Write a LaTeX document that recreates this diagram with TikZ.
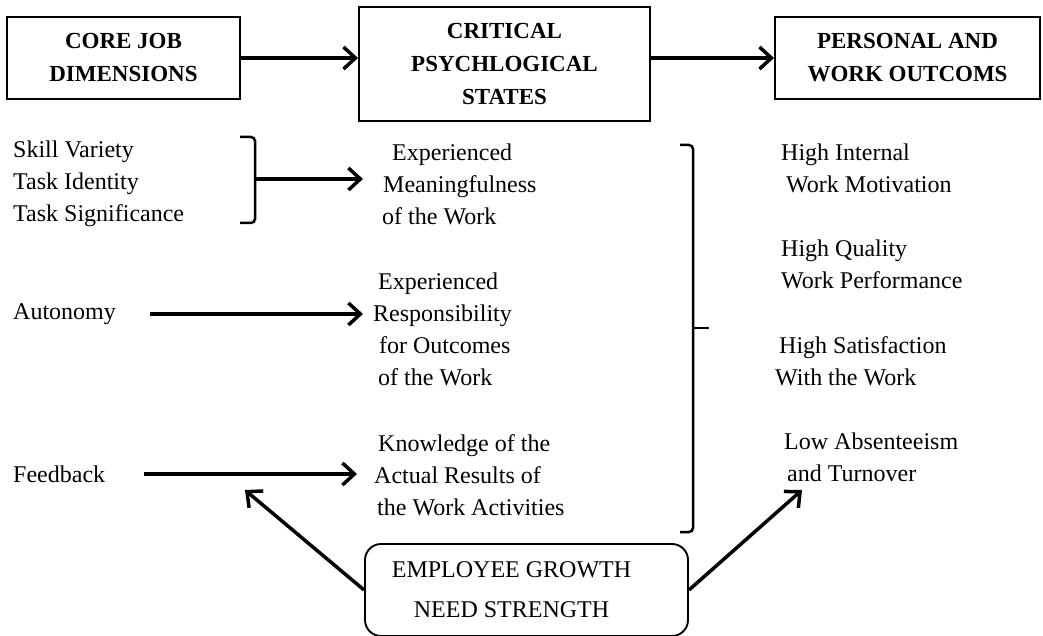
\documentclass[tikz,border=0pt]{standalone}
\usepackage{fontspec}
\setmainfont{Liberation Serif}
\usetikzlibrary{arrows.meta,positioning,calc}

\tikzset{
  headbox/.style={draw, line width=1.9pt, align=center, inner sep=0pt,
    font=\fontsize{23}{33}\selectfont\bfseries},
  item/.style={anchor=west, align=left, inner sep=0pt,
    font=\fontsize{24}{32}\selectfont},
  flow/.style={line width=3.5pt, -{Straight Barb[length=12pt,width=22pt]}},
  brace/.style={line width=2.5pt, rounded corners=4pt},
}

\begin{document}
\begin{tikzpicture}[x=1pt,y=-1pt]
\useasboundingbox (0,0) rectangle (1043,636);
% Headings
\node[headbox, minimum width=233pt, minimum height=82pt] (core) at (123.5,58) {CORE JOB\\DIMENSIONS};
\node[headbox, minimum width=291pt, minimum height=114pt] (crit) at (504.5,64) {CRITICAL\\PSYCHLOGICAL\\STATES};
\node[headbox, minimum width=265pt, minimum height=82pt] (outc) at (907.5,58) {PERSONAL AND\\WORK OUTCOMS};
\draw[flow] (core.east) -- (core.east -| crit.west);
\draw[flow] (outc.west -| crit.east) -- (outc.west);

% Core job dimensions
\node[item] (skills) at (13,184) {Skill Variety\\Task Identity\\Task Significance};
\node[item] (auto) at (13,314) {Autonomy};
\node[item] (fb) at (13,474) {Feedback};

% Psychological states
\node[item] (mean) at (382,184) {\hspace*{10pt}Experienced\\\hspace*{1pt}Meaningfulness\\of the Work};
\node[item] (resp) at (373,329.5) {\hspace*{5pt}Experienced\\Responsibility\\\hspace*{6pt}for Outcomes\\\hspace*{5pt}of the Work};
\node[item] (know) at (374,475) {\hspace*{4pt}Knowledge of the\\Actual Results of\\\hspace*{3pt}the Work Activities};

% Outcomes
\node[item] (motiv) at (775,168) {\hspace*{6pt}High Internal\\\hspace*{11pt}Work Motivation};
\node[item] (perf) at (775,264.5) {\hspace*{6pt}High Quality\\\hspace*{6pt}Work Performance};
\node[item] (satis) at (775,361.5) {\hspace*{4pt}High Satisfaction\\With the Work};
\node[item] (absent) at (775,457) {\hspace*{9pt}Low Absenteeism\\\hspace*{12pt}and Turnover};

% Brackets
\draw[brace] (240,137) -- (255,137) -- (255,223) -- (240,223);
\coordinate (skillbrk) at (255,179);
\draw[brace] (680,145) -- (693,145) -- (693,532) -- (680,532);
\draw[line width=2.5pt] (693,328) -- (709,328);

% Dimension to state arrows
\draw[flow, shorten >=19pt] (skillbrk) -- (skillbrk -| mean.west);
\draw[flow, shorten >=10pt] ([xshift=34pt]auto.east) -- (auto.east -| resp.west);
\draw[flow, shorten >=17pt] ([xshift=39pt]fb.east) -- (fb.east -| know.west);

% Growth need strength
\node[draw, line width=1.9pt, rounded corners=16pt, minimum width=323pt, minimum height=92pt,
  align=center, font=\fontsize{24}{40}\selectfont] (egns) at (526.5,590)
  {\hspace*{-30pt}EMPLOYEE GROWTH\\\hspace*{-30pt}NEED STRENGTH};
\coordinate (fbmod) at (245,490);
\coordinate (outmod) at (802,490);
\draw[flow] (egns.west) -- (fbmod);
\draw[flow] (egns.east) -- (outmod);
\end{tikzpicture}
\end{document}
